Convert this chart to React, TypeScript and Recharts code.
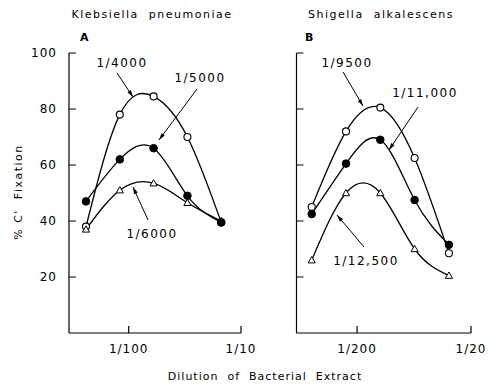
import { LineChart, Line, XAxis, YAxis } from 'recharts';

// panel A: Klebsiella pneumoniae
const dilutionsA = [1 / 240, 1 / 120, 1 / 60, 1 / 30, 1 / 15];
const k4000 = [38, 78, 84.5, 70, 39.5];
const k5000 = [47, 62, 66, 49, 39.5];
const k6000 = [37, 51, 53.5, 46.5, 40];

// panel B: Shigella alkalescens
const dilutionsB = [1 / 500, 1 / 250, 1 / 125, 1 / 62.5, 1 / 31.25];
const s9500 = [45, 72, 80.5, 62.5, 28.5];
const s11000 = [42.5, 60.5, 69, 47.5, 31.5];
const s12500 = [26, 50, 50, 30, 20.5];

const yTicks = [20, 40, 60, 80, 100];
const xTicksA = [1 / 100, 1 / 10];
const xTicksB = [1 / 200, 1 / 20];

const FONT = '"DejaVu Sans", sans-serif';

const dataA = dilutionsA.map((d, i) => ({ d, open: k4000[i], filled: k5000[i], tri: k6000[i] }));
const dataB = dilutionsB.map((d, i) => ({ d, open: s9500[i], filled: s11000[i], tri: s12500[i] }));

const fracLabel = (v: number) => '1/' + Math.round(1 / v);

const tickStyle = { fontSize: 12, fill: '#000', fontFamily: FONT, letterSpacing: 1 };

function triangle(props: any) {
  const { cx, cy, index } = props;
  if (cx == null || cy == null) return <g key={'t' + index} />;
  const s = 3.6;
  return (
    <path
      key={'t' + index}
      d={`M${cx},${cy - s} L${cx + s},${cy + s * 0.75} L${cx - s},${cy + s * 0.75} Z`}
      fill="#fff"
      stroke="#000"
      strokeWidth={1}
    />
  );
}

function Arrow({ x1, y1, x2, y2 }: { x1: number; y1: number; x2: number; y2: number }) {
  const ang = Math.atan2(y2 - y1, x2 - x1);
  const L = 7;
  const W = 2;
  const bx = x2 - L * Math.cos(ang);
  const by = y2 - L * Math.sin(ang);
  const px = -Math.sin(ang) * W;
  const py = Math.cos(ang) * W;
  return (
    <g>
      <line x1={x1} y1={y1} x2={x2} y2={y2} stroke="#000" strokeWidth={1} />
      <path d={`M${x2},${y2} L${bx + px},${by + py} L${bx - px},${by - py} Z`} fill="#000" />
    </g>
  );
}

function Panel({ data, domain, ticks, showY, yWidth, width, left, right }: any) {
  return (
    <div style={{ position: 'absolute', left, top: 0 }}>
      <LineChart width={width} height={386} data={data} margin={{ top: 53, right, bottom: 23, left: 0 }}>
        <XAxis
          type="number"
          dataKey="d"
          scale="log"
          domain={domain}
          allowDataOverflow
          ticks={ticks}
          tickFormatter={fracLabel}
          height={30}
          tickSize={-7}
          tickMargin={18}
          tick={tickStyle}
          axisLine={{ stroke: '#000', strokeWidth: 1.2 }}
          tickLine={{ stroke: '#000', strokeWidth: 1.2 }}
        />
        <YAxis
          type="number"
          domain={[0, 100]}
          ticks={yTicks}
          width={yWidth}
          tickSize={-7}
          tickMargin={19}
          tick={tickStyle}
          tickFormatter={showY ? (v: number) => String(v) : () => ''}
          axisLine={{ stroke: '#000', strokeWidth: 1.2 }}
          tickLine={{ stroke: '#000', strokeWidth: 1 }}
        />
        <Line type="natural" dataKey="open" stroke="#000" strokeWidth={1.3} isAnimationActive={false}
          dot={{ r: 3.5, fill: '#fff', stroke: '#000', strokeWidth: 1.1 }} />
        <Line type="natural" dataKey="tri" stroke="#000" strokeWidth={1.3} isAnimationActive={false} dot={triangle} />
        <Line type="natural" dataKey="filled" stroke="#000" strokeWidth={1.3} isAnimationActive={false}
          dot={{ r: 3.8, fill: '#000', stroke: '#000', strokeWidth: 1 }} />
      </LineChart>
    </div>
  );
}

export default function App() {
  const lbl = { fontSize: 12, fontFamily: FONT, fill: '#000', letterSpacing: 1.5, textAnchor: 'middle' as const };
  return (
    <div style={{ position: 'absolute', left: 0, top: 0, width: 493, height: 386, background: '#fff' }}>
      <Panel data={dataA} domain={[1 / 340, 1 / 10]} ticks={xTicksA} showY yWidth={69} width={270} left={0} right={29} />
      <Panel data={dataB} domain={[1 / 680, 1 / 20]} ticks={xTicksB} showY={false} yWidth={46.5} width={243} left={250} right={22} />
      <svg width={493} height={386} style={{ position: 'absolute', left: 0, top: 0, pointerEvents: 'none' }}>
        <text x={152} y={18} {...lbl} fontSize={11} style={{ whiteSpace: 'pre' }}>Klebsiella  pneumoniae</text>
        <text x={381} y={18} {...lbl} fontSize={11} style={{ whiteSpace: 'pre' }}>Shigella  alkalescens</text>
        <text x={85} y={41} {...lbl} fontSize={11} fontWeight="bold">A</text>
        <text x={310} y={41} {...lbl} fontSize={11} fontWeight="bold">B</text>
        <text x={22} y={192} {...lbl} fontSize={11} transform="rotate(-90, 22, 192)" style={{ whiteSpace: 'pre' }}>% C'  Fixation</text>
        <text x={265} y={380} {...lbl} fontSize={11} letterSpacing={1} style={{ whiteSpace: 'pre' }}>Dilution  of  Bacterial  Extract</text>

        <text x={122} y={67} {...lbl}>1/4000</text>
        <Arrow x1={117} y1={73} x2={133} y2={97} />
        <text x={200} y={82} {...lbl}>1/5000</text>
        <Arrow x1={197} y1={89} x2={159} y2={140} />
        <text x={152} y={238} {...lbl}>1/6000</text>
        <Arrow x1={148} y1={220} x2={133} y2={187} />

        <text x={347} y={67} {...lbl}>1/9500</text>
        <Arrow x1={343} y1={72} x2={363} y2={106} />
        <text x={425} y={97} {...lbl}>1/11,000</text>
        <Arrow x1={418} y1={107} x2={389} y2={150} />
        <text x={366} y={265} {...lbl}>1/12,500</text>
        <Arrow x1={364} y1={247} x2={337} y2={215} />
      </svg>
    </div>
  );
}
